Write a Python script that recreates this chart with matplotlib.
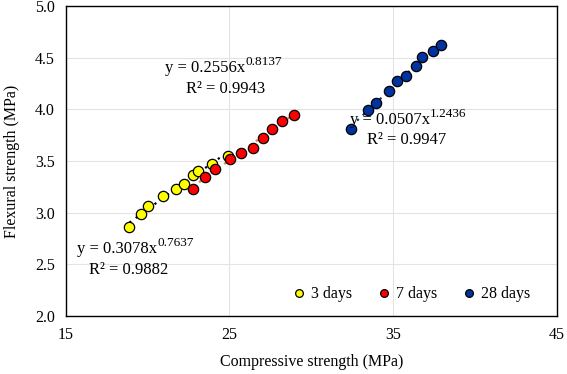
import numpy as np
import matplotlib
matplotlib.use("Agg")
import matplotlib.pyplot as plt

plt.rcParams["font.family"] = ["Liberation Serif", "DejaVu Serif"]

# compressive (x) vs flexural (y) strength, MPa
x3 = [18.89, 19.60, 20.01, 20.93, 21.72, 22.23, 22.76, 23.10, 23.93, 24.93]
y3 = [2.86, 2.99, 3.06, 3.16, 3.23, 3.28, 3.36, 3.40, 3.47, 3.55]
x7 = [22.76, 23.51, 24.12, 25.03, 25.70, 26.41, 27.02, 27.63, 28.24, 28.93]
y7 = [3.23, 3.35, 3.42, 3.52, 3.58, 3.63, 3.72, 3.81, 3.89, 3.95]
x28 = [32.45, 33.46, 33.93, 34.74, 35.26, 35.76, 36.37, 36.78, 37.45, 37.90]
y28 = [3.81, 3.99, 4.06, 4.18, 4.27, 4.32, 4.42, 4.51, 4.56, 4.62]

# power fits y = a*x^b shown on the chart
fits = {"3": (0.3078, 0.7637, 0.9882),
        "7": (0.2556, 0.8137, 0.9943),
        "28": (0.0507, 1.2436, 0.9947)}

fig = plt.figure(figsize=(5.67, 3.74), dpi=100)
ax = fig.add_axes([0.116, 0.155, 0.866, 0.829])

series = [(x3, y3, "#FFFF00", "3", "3 days", "black"),
          (x7, y7, "#FF0000", "7", "7 days", "#ED7D31"),
          (x28, y28, "#0033A0", "28", "28 days", "#1F2F5F")]

for xs, ys, col, key, lab, lc in series:
    a, b, r2 = fits[key]
    xx = np.linspace(min(xs), max(xs), 100)
    ax.plot(xx, a * xx ** b, ls=(0, (1, 2.5)), color=lc, lw=1.6, zorder=2)
for xs, ys, col, key, lab, lc in series:
    ax.scatter(xs, ys, s=55, color=col, edgecolor="black", linewidth=0.9,
               label=lab, zorder=3)

def eq_text(xl, y, xc, key):
    a, b, r2 = fits[key]
    t = ax.text(xl, y, f"y = {a:.4f}x", ha="left", va="center", fontsize=12, zorder=4)
    ax.annotate(f"{b:.4f}", xy=(1.0, 0.5), xycoords=t, ha="left", va="bottom",
                fontsize=9.5, zorder=4)
    ax.text(xc, y - 0.2, f"R² = {r2:.4f}", ha="center", va="center", fontsize=12, zorder=4)

eq_text(21.07, 4.40, 24.79, "7")
eq_text(32.35, 3.90, 35.82, "28")
eq_text(15.70, 2.65, 18.87, "3")

ax.set_xlim(15, 45)
ax.set_ylim(2.0, 5.0)
ax.set_xticks([15, 25, 35, 45])
ax.set_yticks(np.arange(2.0, 5.01, 0.5))
ax.yaxis.set_major_formatter(matplotlib.ticker.FormatStrFormatter("%.1f"))
ax.grid(True, color="#E3E3E3", lw=0.8)
ax.set_axisbelow(True)
ax.tick_params(length=0, labelsize=11.5, pad=8)
for sp in ax.spines.values():
    sp.set_color("black")
    sp.set_linewidth(1.0)

ax.set_xlabel("Compressive strength (MPa)", fontsize=11.5, labelpad=8)
ax.set_ylabel("Flexural strength (MPa)", fontsize=11.5, labelpad=11)

ax.legend(loc="lower right", ncol=3, frameon=False, fontsize=11.5,
          handlelength=1.0, handletextpad=0.25, columnspacing=1.5,
          markerscale=0.75, bbox_to_anchor=(0.975, 0.0))

fig.savefig("out.png", dpi=100)
